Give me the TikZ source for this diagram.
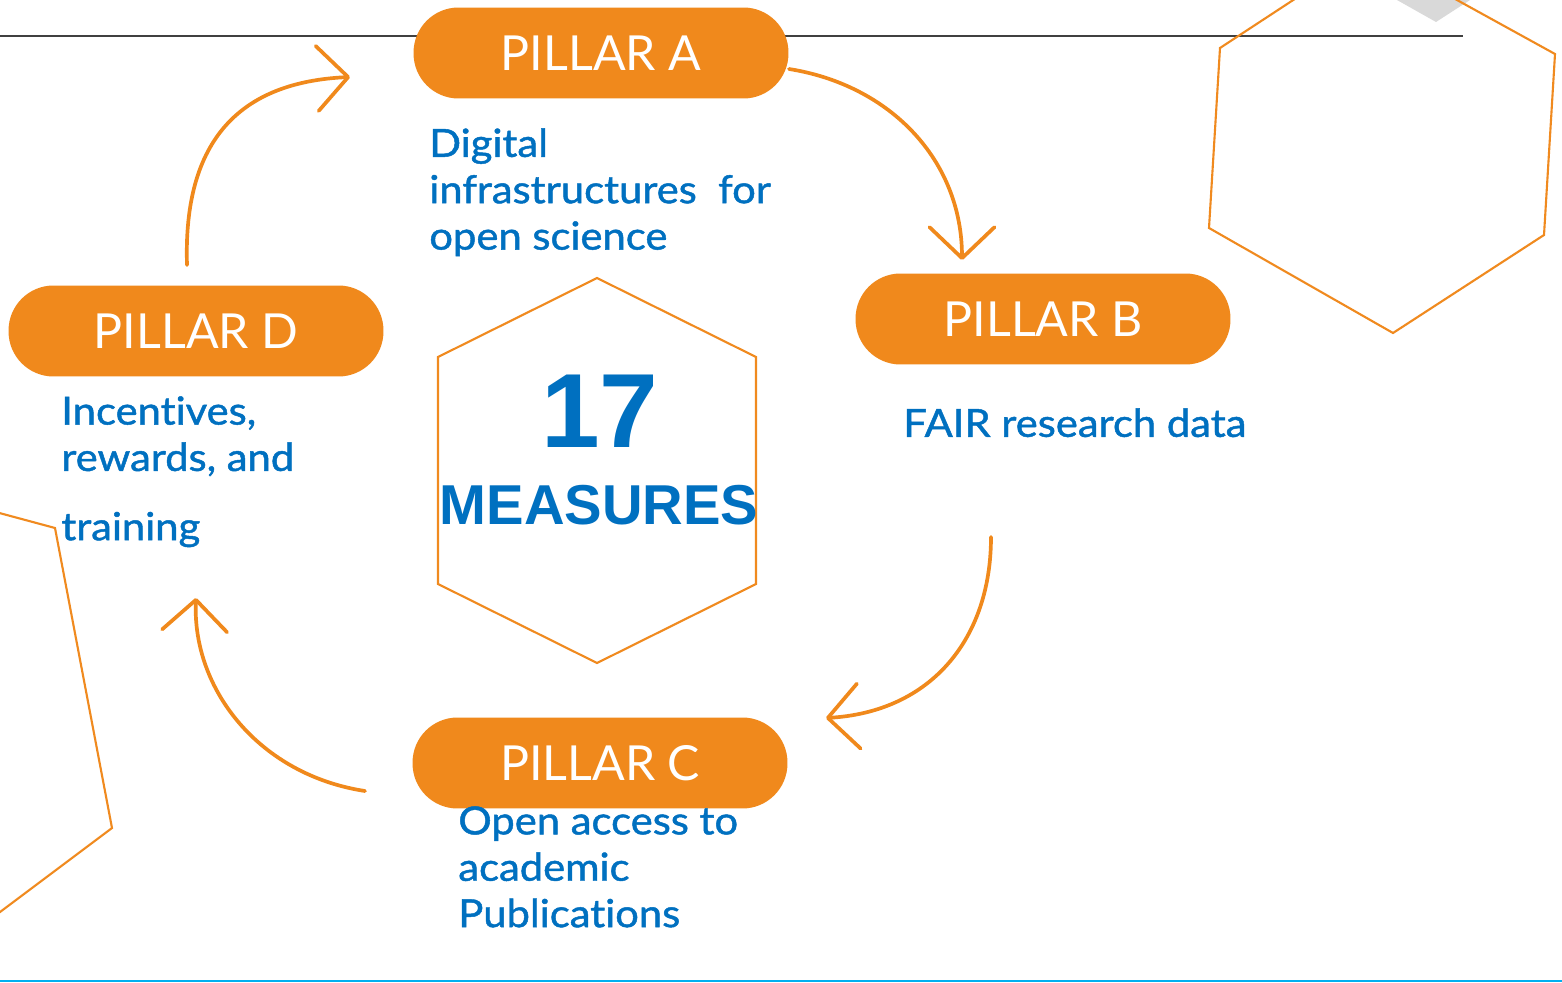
\documentclass[tikz,border=0pt]{standalone}
\usepackage{fontspec}
\setmainfont{Lato}[Ligatures=NoCommon]
\newfontfamily\descfont{Lato}[Ligatures=NoCommon, FakeStretch=1.08, BoldFont={Lato}, BoldFeatures={FakeBold=1.2}]
\newfontfamily\arialfont{Liberation Sans}
\usetikzlibrary{arrows.meta}
\definecolor{pillorange}{HTML}{F0891C}
\definecolor{hexorange}{HTML}{F08A1F}
\definecolor{txtblue}{HTML}{0070C0}
\definecolor{topgray}{HTML}{404040}
\definecolor{lightgray}{HTML}{D9D9D9}
\definecolor{cyanline}{HTML}{00B0F0}
\tikzset{
  pill/.style={fill=pillorange, text=white, rounded corners=0.9cm,
    minimum width=7.5cm, minimum height=1.82cm, inner sep=0pt,
    font=\fontsize{27.5}{30}\selectfont},
  bluetext/.style={text=txtblue, align=left, inner sep=0pt, anchor=north west,
    font=\descfont\bfseries\fontsize{22}{26.4}\selectfont},
  hexline/.style={draw=hexorange, line width=1.2pt, line join=miter},
  flow/.style={draw=pillorange, line width=2.1pt, line cap=round,
    -{Straight Barb[length=0.62cm,width=1.3cm,round]}},
}
\begin{document}
\begin{tikzpicture}[x=0.02cm,y=-0.02cm]
\useasboundingbox (0,0) rectangle (1562,983);
\clip (0,0) rectangle (1562,983);
\fill[white] (0,0) rectangle (1562,983);
% decorative shapes
\fill[lightgray] (1397,0) -- (1436,22) -- (1470,0) -- cycle;
\draw[topgray, line width=1.7pt] (0,36) -- (1463,36);
\draw[cyanline, line width=1.6pt] (0,981) -- (1562,981);
\draw[hexline] (1368,-49) -- (1220,48) -- (1209,228) -- (1393,333) -- (1544,235) -- (1555,54) -- cycle;
\draw[hexline] (-60,497) -- (55,528) -- (112,828) -- (-20,927);
\draw[hexline] (597,278) -- (756,357) -- (756,584) -- (597,663) -- (438,584) -- (438,357) -- cycle;
% center text
\node[text=txtblue, inner sep=0pt] (seventeen) at (600,411) {\arialfont\bfseries\fontsize{60}{60}\selectfont 17};
\node[text=txtblue, inner sep=0pt] (measures) at (599,505) {\arialfont\bfseries\fontsize{32}{32}\selectfont MEASURES};
% pills
\node[pill] (A) at (601,53) {PILLAR A};
\node[pill] (B) at (1043,319) {PILLAR B};
\node[pill] (C) at (600,763) {PILLAR C};
\node[pill] (D) at (196,331) {PILLAR D};
% descriptions
\node[bluetext] (descA) at (429,128) {Digital\\infrastructures\ \ for\\open science};
\node[bluetext] (descB) at (903,408) {FAIR research data};
\node[bluetext] (descC) at (458,806) {Open access to\\academic\\Publications};
\node[bluetext] (descD) at (61,396) {Incentives,\\rewards, and\\[13pt]training};
% arrows
\coordinate (d1) at (187,265); \coordinate (a1) at (350,77);
\coordinate (a2) at (789,69);  \coordinate (b1) at (962,260);
\coordinate (b2) at (991,537); \coordinate (c1) at (826,718);
\coordinate (c2) at (365,791); \coordinate (d2) at (196,598);
\draw[flow] (d1) .. controls (183,140) and (240,82) .. (a1);
\draw[flow] (a2) .. controls (890,85) and (962,160) .. (b1);
\draw[flow] (b2) .. controls (991,640) and (930,712) .. (c1);
\draw[flow] (c2) .. controls (260,775) and (192,690) .. (d2);
\end{tikzpicture}
\end{document}
